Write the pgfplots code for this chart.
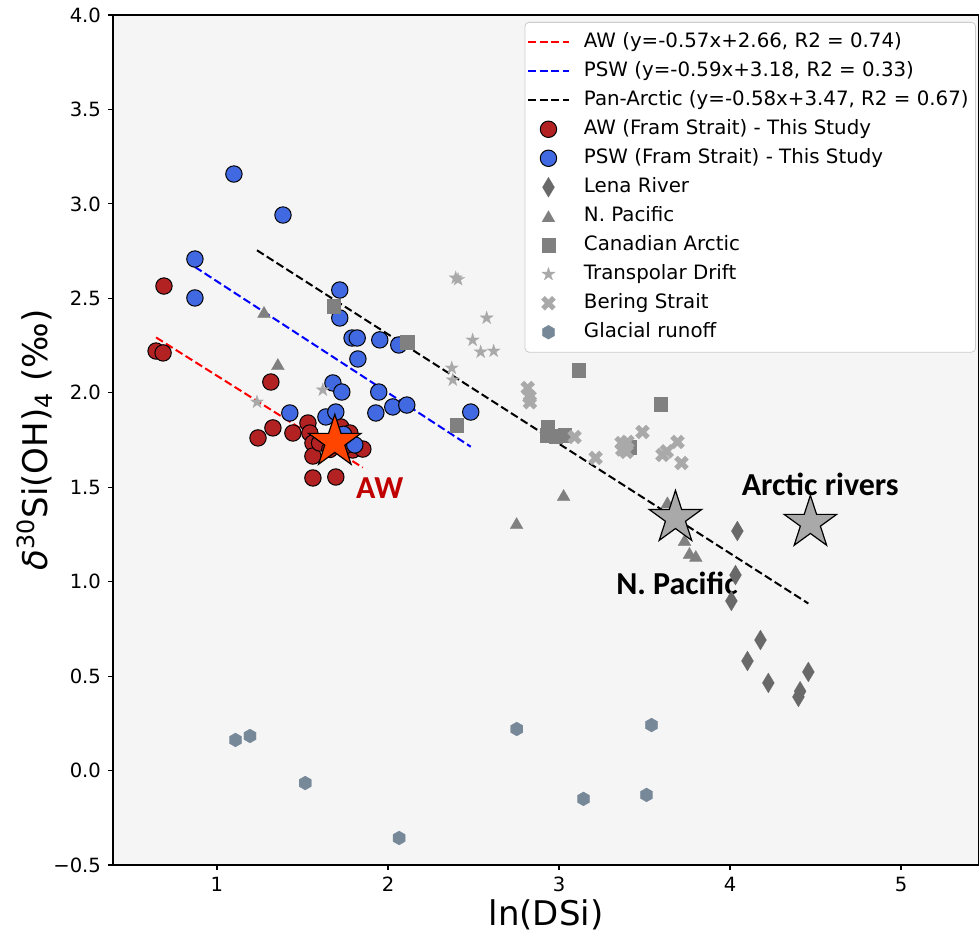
\documentclass[border=0pt]{standalone}
\usepackage{fontspec}
\setmainfont{DejaVu Sans}
\newfontfamily\carlito{Carlito}
\usepackage{pgfplots}
\pgfplotsset{compat=1.18}

\definecolor{bgc}{HTML}{F5F5F5}
\definecolor{awred}{HTML}{B22222}
\definecolor{pswblue}{HTML}{4169E1}
\definecolor{awstar}{HTML}{FF4500}
\definecolor{lena}{HTML}{696969}
\definecolor{gray5}{HTML}{808080}
\definecolor{lgray}{HTML}{A9A9A9}
\definecolor{glac}{HTML}{778899}
\definecolor{awtext}{HTML}{C00000}

% filled five-pointed star
\pgfdeclareplotmark{fstar}{%
\pgfpathmoveto{\pgfqpoint{0pt}{\pgfplotmarksize}}%
\pgfpathlineto{\pgfqpoint{-0.2245\pgfplotmarksize}{0.309\pgfplotmarksize}}%
\pgfpathlineto{\pgfqpoint{-0.9511\pgfplotmarksize}{0.309\pgfplotmarksize}}%
\pgfpathlineto{\pgfqpoint{-0.3633\pgfplotmarksize}{-0.118\pgfplotmarksize}}%
\pgfpathlineto{\pgfqpoint{-0.5878\pgfplotmarksize}{-0.809\pgfplotmarksize}}%
\pgfpathlineto{\pgfqpoint{0pt}{-0.382\pgfplotmarksize}}%
\pgfpathlineto{\pgfqpoint{0.5878\pgfplotmarksize}{-0.809\pgfplotmarksize}}%
\pgfpathlineto{\pgfqpoint{0.3633\pgfplotmarksize}{-0.118\pgfplotmarksize}}%
\pgfpathlineto{\pgfqpoint{0.9511\pgfplotmarksize}{0.309\pgfplotmarksize}}%
\pgfpathlineto{\pgfqpoint{0.2245\pgfplotmarksize}{0.309\pgfplotmarksize}}%
\pgfpathclose\pgfusepathqfillstroke}
% hexagon, point up
\pgfdeclareplotmark{hexa}{%
\pgfpathmoveto{\pgfqpoint{0pt}{\pgfplotmarksize}}%
\pgfpathlineto{\pgfqpoint{-0.866\pgfplotmarksize}{0.5\pgfplotmarksize}}%
\pgfpathlineto{\pgfqpoint{-0.866\pgfplotmarksize}{-0.5\pgfplotmarksize}}%
\pgfpathlineto{\pgfqpoint{0pt}{-\pgfplotmarksize}}%
\pgfpathlineto{\pgfqpoint{0.866\pgfplotmarksize}{-0.5\pgfplotmarksize}}%
\pgfpathlineto{\pgfqpoint{0.866\pgfplotmarksize}{0.5\pgfplotmarksize}}%
\pgfpathclose\pgfusepathqfillstroke}
% filled X
\pgfdeclareplotmark{fx}{%
\pgfpathmoveto{\pgfqpoint{0pt}{0.4525\pgfplotmarksize}}%
\pgfpathlineto{\pgfqpoint{-0.4808\pgfplotmarksize}{0.9334\pgfplotmarksize}}%
\pgfpathlineto{\pgfqpoint{-0.9334\pgfplotmarksize}{0.4808\pgfplotmarksize}}%
\pgfpathlineto{\pgfqpoint{-0.4525\pgfplotmarksize}{0pt}}%
\pgfpathlineto{\pgfqpoint{-0.9334\pgfplotmarksize}{-0.4808\pgfplotmarksize}}%
\pgfpathlineto{\pgfqpoint{-0.4808\pgfplotmarksize}{-0.9334\pgfplotmarksize}}%
\pgfpathlineto{\pgfqpoint{0pt}{-0.4525\pgfplotmarksize}}%
\pgfpathlineto{\pgfqpoint{0.4808\pgfplotmarksize}{-0.9334\pgfplotmarksize}}%
\pgfpathlineto{\pgfqpoint{0.9334\pgfplotmarksize}{-0.4808\pgfplotmarksize}}%
\pgfpathlineto{\pgfqpoint{0.4525\pgfplotmarksize}{0pt}}%
\pgfpathlineto{\pgfqpoint{0.9334\pgfplotmarksize}{0.4808\pgfplotmarksize}}%
\pgfpathlineto{\pgfqpoint{0.4808\pgfplotmarksize}{0.9334\pgfplotmarksize}}%
\pgfpathclose\pgfusepathqfillstroke}
% thin diamond
\pgfdeclareplotmark{tdiam}{%
\pgfpathmoveto{\pgfqpoint{0pt}{\pgfplotmarksize}}%
\pgfpathlineto{\pgfqpoint{-0.6\pgfplotmarksize}{0pt}}%
\pgfpathlineto{\pgfqpoint{0pt}{-\pgfplotmarksize}}%
\pgfpathlineto{\pgfqpoint{0.6\pgfplotmarksize}{0pt}}%
\pgfpathclose\pgfusepathqfillstroke}
% triangle up
\pgfdeclareplotmark{tri}{%
\pgfpathmoveto{\pgfqpoint{0pt}{0.75\pgfplotmarksize}}%
\pgfpathlineto{\pgfqpoint{-0.866\pgfplotmarksize}{-0.75\pgfplotmarksize}}%
\pgfpathlineto{\pgfqpoint{0.866\pgfplotmarksize}{-0.75\pgfplotmarksize}}%
\pgfpathclose\pgfusepathqfillstroke}

\begin{document}
\begin{tikzpicture}
\begin{axis}[
  scale only axis, width=433pt, height=425pt,
  xmin=0.392, xmax=5.456, ymin=-0.5, ymax=4.0,
  axis background/.style={fill=bgc},
  axis line style={line width=0.6pt},
  tick align=outside, xtick pos=bottom, ytick pos=left,
  major tick length=2.5pt,
  every tick/.style={black, line width=0.6pt},
  xtick={1,2,3,4,5}, xticklabels={1,2,3,4,5},
  ytick={-0.5,0,0.5,1,1.5,2,2.5,3,3.5,4},
  yticklabels={−0.5,0.0,0.5,1.0,1.5,2.0,2.5,3.0,3.5,4.0},
  ticklabel style={font=\fontsize{9.8}{11}\selectfont},
  xlabel={ln(DSi)},
  xlabel style={font=\fontsize{17}{20}\selectfont, at={(axis description cs:0.5,-0.0588)}, anchor=center},
  ylabel={\textit{δ}\textsuperscript{30}Si(OH)\textsubscript{4} (‰)},
  ylabel style={font=\fontsize{17}{20}\selectfont, at={(axis description cs:-0.09,0.5)}, anchor=center},
  legend cell align=left,
  legend image code/.code={\draw[mark repeat=2,mark phase=2,#1] plot coordinates {(0pt,0pt)(10.25pt,0pt)(20.5pt,0pt)};},
  legend style={at={(rel axis cs:0.9965,0.9918)}, anchor=north east,
    draw=black!20, rounded corners=2pt, fill=white,
    font=\fontsize{9.9}{11}\selectfont,
    inner xsep=1pt, inner ysep=2.7pt,
    nodes={inner sep=2.5pt, text height=7.3pt, text depth=2.2pt},
    /tikz/every odd column/.append style={column sep=4.5pt}},
]
\addlegendimage{red, line width=1pt, dash pattern=on 4pt off 1.8pt}
\addlegendentry{AW (y=-0.57x+2.66, R2 = 0.74)}
\addlegendimage{blue, line width=1pt, dash pattern=on 4pt off 1.8pt}
\addlegendentry{PSW (y=-0.59x+3.18, R2 = 0.33)}
\addlegendimage{black, line width=1pt, dash pattern=on 4pt off 1.8pt}
\addlegendentry{Pan-Arctic (y=-0.58x+3.47, R2 = 0.67)}

% AW (Fram Strait)
\addplot[only marks, mark=*, mark size=4.1pt, mark options={fill=awred, draw=black, line width=0.5pt}] coordinates {
(0.644,2.221)(0.685,2.211)(0.690,2.565)(1.315,2.057)(1.240,1.761)(1.327,1.814)
(1.444,1.787)(1.532,1.840)(1.543,1.787)(1.561,1.734)(1.561,1.665)(1.561,1.549)
(1.695,1.554)(1.724,1.819)(1.777,1.787)(1.794,1.697)(1.853,1.702)(1.60,1.734)
(1.66,1.70)(1.75,1.72)};
\addlegendentry{AW (Fram Strait) - This Study}
% PSW (Fram Strait)
\addplot[only marks, mark=*, mark size=4.1pt, mark options={fill=pswblue, draw=black, line width=0.5pt}] coordinates {
(1.099,3.158)(1.386,2.941)(0.871,2.708)(0.871,2.502)(1.718,2.544)(1.718,2.396)
(1.79,2.29)(1.82,2.29)(1.952,2.28)(2.063,2.253)(1.824,2.179)(1.678,2.052)
(1.730,2.004)(1.946,2.004)(1.929,1.893)(2.028,1.925)(2.110,1.935)(2.484,1.898)
(1.426,1.893)(1.637,1.872)(1.695,1.898)(1.806,1.724)(1.74,1.78)};
\addlegendentry{PSW (Fram Strait) - This Study}
% Lena River
\addplot[only marks, mark=tdiam, mark size=5pt, mark options={fill=lena, draw=lena, line width=0.1pt}] coordinates {
(4.043,1.268)(4.032,1.035)(4.008,0.898)(4.178,0.691)(4.102,0.580)(4.224,0.464)
(4.458,0.522)(4.41,0.42)(4.40,0.39)};
\addlegendentry{Lena River}
% N. Pacific
\addplot[only marks, mark=tri, mark size=3.75pt, mark options={fill=gray5, draw=gray5, line width=0.1pt}] coordinates {
(1.275,2.428)(1.356,2.152)(2.752,1.31)(3.027,1.459)(3.634,1.42)(3.734,1.221)
(3.763,1.152)(3.80,1.136)};
\addlegendentry{N. Pacific}
% Canadian Arctic
\addplot[only marks, mark=square*, mark size=3.4pt, mark options={fill=gray5, draw=gray5, line width=0.1pt}] coordinates {
(1.683,2.459)(2.11,2.269)(2.402,1.830)(3.114,2.121)(3.593,1.941)(2.933,1.819)
(2.927,1.777)(3.033,1.777)(2.98,1.77)(3.412,1.713)};
\addlegendentry{Canadian Arctic}
% Transpolar Drift
\addplot[only marks, mark=fstar, mark size=3.5pt, mark options={fill=lgray, draw=lgray, line width=0.1pt}] coordinates {
(2.396,2.608)(2.41,2.60)(2.577,2.396)(2.495,2.279)(2.542,2.216)(2.618,2.221)
(2.373,2.131)(2.379,2.068)(1.619,2.015)(1.234,1.951)};
\addlegendentry{Transpolar Drift}
% Bering Strait
\addplot[only marks, mark=fx, mark size=3.75pt, mark options={fill=lgray, draw=lgray, line width=0.1pt}] coordinates {
(2.817,2.025)(2.828,1.978)(2.83,1.95)(3.091,1.766)(3.214,1.655)(3.366,1.734)
(3.395,1.687)(3.488,1.792)(3.605,1.671)(3.63,1.69)(3.693,1.740)(3.716,1.628)
(3.40,1.74)(3.37,1.70)};
\addlegendentry{Bering Strait}
% Glacial runoff
\addplot[only marks, mark=hexa, mark size=3.5pt, mark options={fill=glac, draw=glac, line width=0.1pt}] coordinates {
(1.108,0.162)(1.193,0.183)(1.516,-0.066)(2.065,-0.357)(2.753,0.220)(3.143,-0.150)
(3.512,-0.129)(3.541,0.241)};
\addlegendentry{Glacial runoff}

% end-member stars
\addplot[forget plot, only marks, mark=fstar, mark size=13.8pt, mark options={fill=lgray, draw=black, line width=0.6pt}] coordinates {
(3.681,1.337)(4.470,1.311)};
\addplot[forget plot, only marks, mark=fstar, mark size=13.8pt, mark options={fill=awstar, draw=black, line width=0.6pt}] coordinates {
(1.689,1.740)};

% regression lines
\addplot[forget plot, red, line width=1pt, dash pattern=on 4pt off 1.8pt] coordinates {(0.644,2.2929)(1.853,1.6038)};
\addplot[forget plot, blue, line width=1pt, dash pattern=on 4pt off 1.8pt] coordinates {(0.871,2.6661)(2.484,1.7144)};
\addplot[forget plot, black, line width=1pt, dash pattern=on 4pt off 1.8pt] coordinates {(1.234,2.7543)(4.458,0.8844)};

\node[font=\carlito\bfseries\fontsize{16}{18}\selectfont, text=awtext] at (axis cs:1.952,1.496) {AW};
\node[font=\carlito\bfseries\fontsize{16}{18}\selectfont] at (axis cs:4.528,1.517) {Arctic rivers};
\node[font=\carlito\bfseries\fontsize{16}{18}\selectfont] at (axis cs:3.690,0.993) {N. Pacific};
\end{axis}
\pgfresetboundingbox
\useasboundingbox ([xshift=-56.5pt,yshift=-33pt]current axis.south west) rectangle ([yshift=7.5pt]current axis.north east);
\end{tikzpicture}
\end{document}
